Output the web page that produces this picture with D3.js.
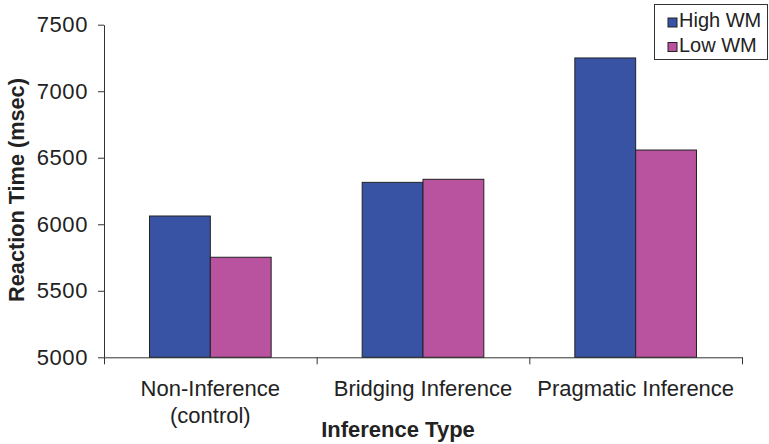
<!DOCTYPE html>
<html>
<head>
<meta charset="utf-8">
<script src="https://cdn.jsdelivr.net/npm/d3@7"></script>
<style>
  html, body { margin: 0; padding: 0; background: #fff; }
  svg { display: block; font-family: Arial, "Liberation Sans", Helvetica, sans-serif; }
</style>
</head>
<body>
<svg id="chart" width="769" height="444"></svg>
<script>
const categories = ["Non-Inference\n(control)", "Bridging Inference", "Pragmatic Inference"];
const seriesNames = ["High WM", "Low WM"];
const highWM = [6062, 6315, 7250];
const lowWM = [5752, 6338, 6558];
const yTicks = [5000, 5500, 6000, 6500, 7000, 7500];
const colors = ["#3953a4", "#b9529f"];

(function () {
const svg = d3.select("#chart");
const mLeft = 104, mRight = 742, mTop = 24.7, mBottom = 357.3;

const y = d3.scaleLinear().domain([5000, 7500]).range([mBottom, mTop]);
const x0 = d3.scaleBand().domain(categories).range([mLeft, mRight])
  .paddingInner(0.428).paddingOuter(0.214);
const x1 = d3.scaleBand().domain(seriesNames).range([0, x0.bandwidth()]);

const series = [highWM, lowWM];

// bars
categories.forEach((c, i) => {
  seriesNames.forEach((s, j) => {
    svg.append("rect")
      .attr("x", x0(c) + x1(s))
      .attr("y", y(series[j][i]))
      .attr("width", x1.bandwidth())
      .attr("height", y(5000) - y(series[j][i]))
      .attr("fill", colors[j])
      .attr("stroke", "#222")
      .attr("stroke-width", 1);
  });
});

// y axis
const yAxis = d3.axisLeft(y).tickValues(yTicks).tickSize(6).tickSizeOuter(0).tickPadding(10)
  .tickFormat(d3.format("d"));
const gy = svg.append("g").attr("transform", `translate(${mLeft},0)`).call(yAxis);
gy.selectAll("path, line").attr("stroke", "#333");
gy.selectAll("text").attr("font-size", 22).attr("fill", "#222")
  .attr("letter-spacing", "0.6px")
  .attr("font-family", "Arial, 'Liberation Sans', sans-serif");

// x axis with ticks at category boundaries
const xb = d3.scaleLinear().domain([0, categories.length]).range([mLeft, mRight]);
const xAxis = d3.axisBottom(xb).tickValues(d3.range(categories.length + 1))
  .tickSize(7).tickSizeOuter(0).tickFormat("");
const gx = svg.append("g").attr("transform", `translate(0,${mBottom})`).call(xAxis);
gx.selectAll("path, line").attr("stroke", "#333");

// category labels
categories.forEach(c => {
  const lines = c.split("\n");
  const cx = x0(c) + x0.bandwidth() / 2;
  lines.forEach((ln, k) => {
    svg.append("text")
      .attr("x", cx)
      .attr("y", 396 + k * 27)
      .attr("text-anchor", "middle")
      .attr("font-size", 22)
      .attr("fill", "#222")
      .text(ln);
  });
});

// axis titles
svg.append("text")
  .attr("x", 398).attr("y", 437)
  .attr("text-anchor", "middle")
  .attr("font-size", 22).attr("font-weight", "bold").attr("fill", "#222")
  .text("Inference Type");

svg.append("text")
  .attr("transform", `translate(24,${(mTop + mBottom) / 2 - 1}) rotate(-90)`)
  .attr("text-anchor", "middle")
  .attr("font-size", 21.7).attr("font-weight", "bold").attr("fill", "#222")
  .text("Reaction Time (msec)");

// legend
const lg = svg.append("g");
lg.append("rect").attr("x", 654.5).attr("y", 4.5).attr("width", 113).attr("height", 55)
  .attr("fill", "#fff").attr("stroke", "#333").attr("stroke-width", 1);
seriesNames.forEach((s, j) => {
  lg.append("rect").attr("x", 668).attr("y", 18 + j * 24.5).attr("width", 9).attr("height", 9)
    .attr("fill", colors[j]).attr("stroke", "#222").attr("stroke-width", 1);
  lg.append("text").attr("x", 679).attr("y", 27.3 + j * 24.5)
    .attr("font-size", 20).attr("fill", "#222").text(s);
});
})();
</script>
</body>
</html>
